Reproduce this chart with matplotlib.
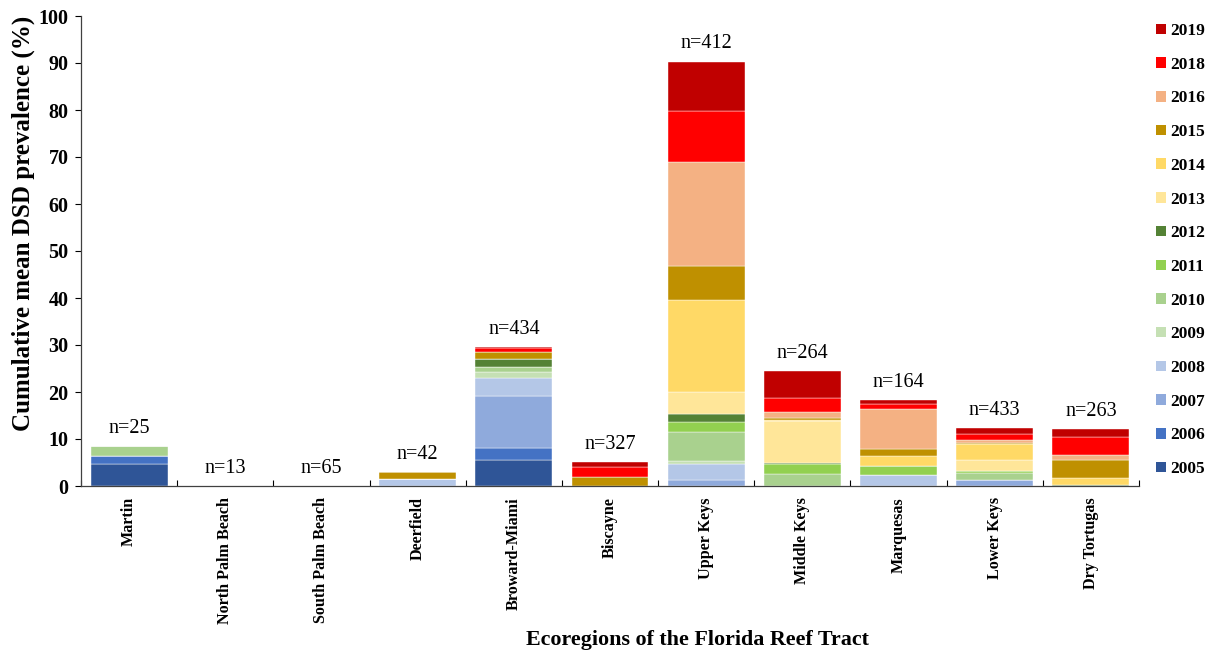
import matplotlib
matplotlib.use("Agg")
import matplotlib.pyplot as plt
import numpy as np
from matplotlib.patches import Patch

plt.rcParams['font.family'] = ['Liberation Serif', 'DejaVu Serif']

regions = ["Martin", "North Palm Beach", "South Palm Beach", "Deerfield",
           "Broward-Miami", "Biscayne", "Upper Keys", "Middle Keys",
           "Marquesas", "Lower Keys", "Dry Tortugas"]
n_sites = [25, 13, 65, 42, 434, 327, 412, 264, 164, 433, 263]

years = ["2005", "2006", "2007", "2008", "2009", "2010", "2011", "2012",
         "2013", "2014", "2015", "2016", "2018", "2019"]

# mean DSD prevalence (%) per survey year, one value per ecoregion
y2005 = [4.6, 0, 0, 0, 5.5, 0, 0, 0, 0, 0, 0]
y2006 = [1.8, 0, 0, 0, 2.5, 0, 0, 0, 0, 0, 0]
y2007 = [0, 0, 0, 0, 11.2, 0, 1.3, 0, 0, 1.3, 0]
y2008 = [0, 0, 0, 1.5, 3.7, 0, 3.3, 0, 2.3, 0, 0]
y2009 = [0, 0, 0, 0, 1.3, 0, 0.7, 0, 0, 0, 0]
y2010 = [2.1, 0, 0, 0, 1.2, 0, 6.1, 2.6, 0, 1.4, 0]
y2011 = [0, 0, 0, 0, 0, 0, 2.3, 2.0, 2.0, 0.4, 0]
y2012 = [0, 0, 0, 0, 1.6, 0, 1.6, 0.2, 0, 0, 0.2]
y2013 = [0, 0, 0, 0, 0, 0, 4.6, 9.0, 0, 2.4, 0]
y2014 = [0, 0, 0, 0, 0, 0, 19.7, 0.2, 2.1, 3.4, 1.6]
y2015 = [0, 0, 0, 1.4, 1.6, 2.0, 7.2, 0.5, 1.4, 0.3, 3.7]
y2016 = [0, 0, 0, 0, 0, 0, 22.1, 1.2, 8.6, 0.6, 1.2]
y2018 = [0, 0, 0, 0, 0.7, 2.1, 10.9, 3.1, 1.0, 1.3, 3.8]
y2019 = [0, 0, 0, 0, 0.3, 0.9, 10.5, 5.7, 0.9, 1.2, 1.6]

series = [y2005, y2006, y2007, y2008, y2009, y2010, y2011, y2012,
          y2013, y2014, y2015, y2016, y2018, y2019]

colors = ["#2f5597", "#4472c4", "#8faadc", "#b4c7e7", "#c5e0b4", "#a9d18e",
          "#92d050", "#548235", "#ffe699", "#ffd966", "#bf9000", "#f4b183",
          "#ff0000", "#c00000"]

fig = plt.figure(figsize=(12.11, 6.60), dpi=100)
ax = fig.add_axes([81 / 1211, 1 - 486 / 660, (1139 - 81) / 1211, (486 - 16) / 660])

x = np.arange(len(regions))
bottom = np.zeros(len(regions))
for vals, col in zip(series, colors):
    vals = np.array(vals, dtype=float)
    ax.bar(x, vals, width=0.8, bottom=bottom, color=col,
           edgecolor="white", linewidth=0.3)
    bottom += vals

for xi, tot, n in zip(x, bottom, n_sites):
    ax.annotate(f"n={n}", (xi, tot), xytext=(0, 6), textcoords="offset points",
                ha="center", va="bottom", fontsize=14.5)

ax.set_xlim(-0.5, len(regions) - 0.5)
ax.set_ylim(0, 100)
ax.set_yticks(np.arange(0, 101, 10))
ax.tick_params(axis="y", direction="out", length=4, width=0.8, labelsize=14.5, pad=5)
for lab in ax.get_yticklabels():
    lab.set_fontweight("bold")

ax.set_xticks(x)
ax.set_xticklabels(regions, rotation=90, fontsize=11.6, fontweight="bold", va="top")
ax.tick_params(axis="x", which="major", length=0, pad=8)
ax.set_xticks(np.arange(-0.5, len(regions) + 0.5, 1), minor=True)
ax.tick_params(axis="x", which="minor", direction="in", length=4, width=0.8)

for side in ("top", "right"):
    ax.spines[side].set_visible(False)
for side in ("left", "bottom"):
    ax.spines[side].set_color("#404040")
    ax.spines[side].set_linewidth(0.9)

fig.text(23 / 1211, 1 - 223 / 660, "Cumulative mean DSD prevalence (%)",
         rotation=90, ha="center", va="center", fontsize=18, fontweight="bold")
fig.text(697 / 1211, 1 - 640 / 660, "Ecoregions of the Florida Reef Tract",
         ha="center", va="center", fontsize=15.8, fontweight="bold")

handles = [Patch(facecolor=c, edgecolor="none") for c in colors]
leg = fig.legend(handles[::-1], years[::-1], loc="upper left",
                 bbox_to_anchor=(1156 / 1211, 1 - 23 / 660), frameon=False,
                 prop={"size": 12.5, "weight": "bold"}, handlelength=0.55,
                 handleheight=0.55, handletextpad=0.25, labelspacing=1.02,
                 borderaxespad=0, borderpad=0)

fig.savefig("out.png", dpi=100)
